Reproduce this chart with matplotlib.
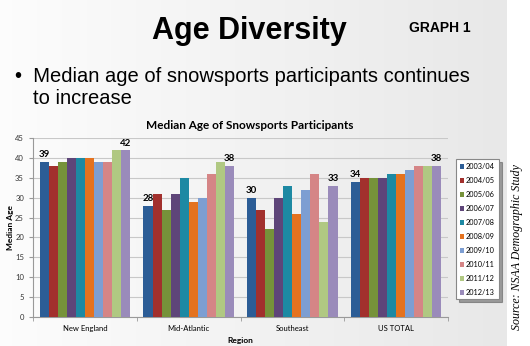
import matplotlib

matplotlib.use("Agg")
import matplotlib.pyplot as plt
import numpy as np

regions = ["New England", "Mid-Atlantic", "Southeast", "US TOTAL"]
seasons = ["2003/04", "2004/05", "2005/06", "2006/07", "2007/08",
           "2008/09", "2009/10", "2010/11", "2011/12", "2012/13"]
# median age per season, one list per region
new_england = [39, 38, 39, 40, 40, 40, 39, 39, 42, 42]
mid_atlantic = [28, 31, 27, 31, 35, 29, 30, 36, 39, 38]
southeast = [30, 27, 22, 30, 33, 26, 32, 36, 24, 33]
us_total = [34, 35, 35, 35, 36, 36, 37, 38, 38, 38]
yticks = list(range(0, 50, 5))

colors = ["#2C5D96", "#A2302D", "#76923A", "#5E4579", "#1D89A3",
          "#E4721F", "#7D9ED2", "#D58586", "#B0C882", "#9A8BBA"]

values = np.array([new_england, mid_atlantic, southeast, us_total])

fig = plt.figure(figsize=(5.3, 3.46), dpi=100)
fig.patch.set_facecolor("white")

# slide background: light gray gradient
bg = fig.add_axes([0, 0, 507 / 530, 1])
grad = np.linspace(0.99, 0.91, 256)[None, :]
grad = np.vstack([grad, grad])
bg.imshow(np.dstack([grad, grad, grad]), aspect="auto", extent=[0, 1, 0, 1])
bg.set_axis_off()

fig.text(0.47, 0.91, "Age Diversity", ha="center", va="center",
         fontsize=22, fontweight="bold", family="Liberation Sans")
fig.text(0.83, 0.918, "GRAPH 1", ha="center", va="center",
         fontsize=10, fontweight="bold", family="Liberation Sans")
fig.text(0.028, 0.78, "\u2022  Median age of snowsports participants continues",
         ha="left", va="center", fontsize=14.5, family="Liberation Sans")
fig.text(0.062, 0.715, "to increase", ha="left", va="center",
         fontsize=14.5, family="Liberation Sans")
fig.text(0.472, 0.638, "Median Age of Snowsports Participants", ha="center",
         va="center", fontsize=8.5, fontweight="bold", family="Lato")
fig.text(0.976, 0.285, "Source: NSAA Demographic Study", rotation=90,
         ha="center", va="center", fontsize=8.6, style="italic",
         family="Liberation Serif")

ax = fig.add_axes([33 / 530, 29 / 346, 415 / 530, 179 / 346])
ax.patch.set_alpha(0)
n = len(seasons)
w = 0.087
x = np.arange(len(regions))
for i, (season, col) in enumerate(zip(seasons, colors)):
    ax.bar(x + (i - (n - 1) / 2) * w, values[:, i], width=w, color=col,
           label=season, zorder=3)

# data labels on first and last season of each region
for j in range(len(regions)):
    ax.text(x[j] - (n - 1) / 2 * w, values[j, 0] + 0.6, str(values[j, 0]),
            ha="center", va="bottom", fontsize=7, fontweight="bold", family="Lato")
    ax.text(x[j] + (n - 1) / 2 * w, values[j, -1] + 0.6, str(values[j, -1]),
            ha="center", va="bottom", fontsize=7, fontweight="bold", family="Lato")

ax.set_xlim(-0.5, len(regions) - 0.5)
ax.set_ylim(0, 45)
ax.set_yticks(yticks)
ax.set_xticks(x)
ax.set_xticklabels(regions)
ax.set_xticks(np.arange(-0.5, len(regions), 1), minor=True)
ax.tick_params(axis="x", which="major", length=0, labelsize=5.5, pad=6)
ax.tick_params(axis="x", which="minor", length=3, color="#999999")
ax.tick_params(axis="y", labelsize=5.5, length=3, color="#999999",
               labelcolor="#333333")
for lab in ax.get_xticklabels() + ax.get_yticklabels():
    lab.set_family("Lato")
ax.grid(axis="y", color="#c8c8c8", linewidth=0.8, zorder=0)
for side in ["top", "right"]:
    ax.spines[side].set_visible(False)
for side in ["left", "bottom"]:
    ax.spines[side].set_color("#999999")
    ax.spines[side].set_linewidth(0.8)
ax.set_ylabel("Median Age", fontsize=6, fontweight="bold", family="Lato",
              labelpad=1)
ax.set_xlabel("Region", fontsize=6, fontweight="bold", family="Lato",
              labelpad=3)

leg = ax.legend(loc="center left", bbox_to_anchor=(1.01, 0.49),
                prop={"family": "Lato", "size": 5.3},
                handlelength=0.6, handleheight=0.6, handletextpad=0.3,
                labelspacing=0.95, borderpad=0.5, fancybox=False,
                shadow=True, frameon=True)
leg.get_frame().set_edgecolor("#888888")
leg.get_frame().set_linewidth(0.8)

fig.savefig("out.png", dpi=100)
